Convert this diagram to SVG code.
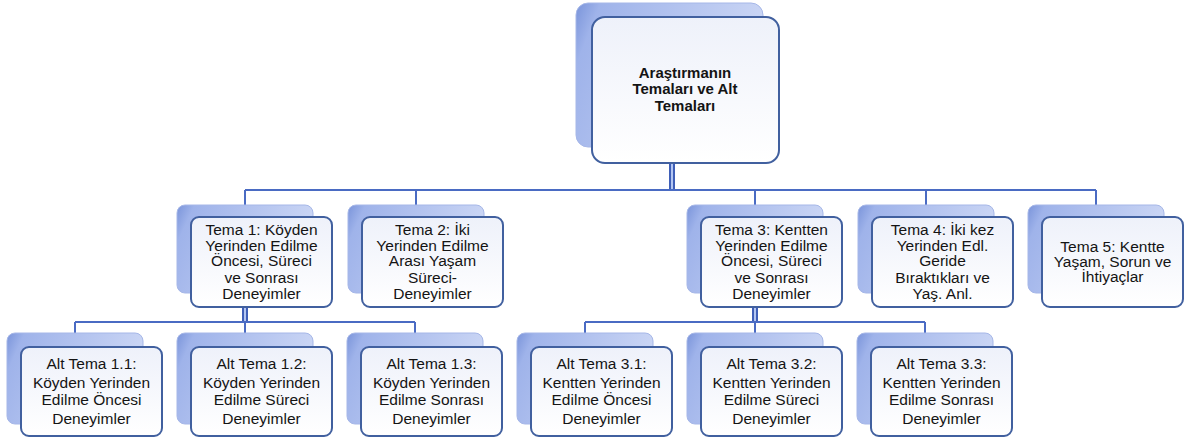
<svg xmlns="http://www.w3.org/2000/svg" width="1187" height="444" viewBox="0 0 1187 444">
<defs>
<linearGradient id="sh" x1="0" y1="0" x2="1" y2="0.3">
<stop offset="0" stop-color="#7a94da"/>
<stop offset="0.12" stop-color="#9fb3ea"/>
<stop offset="1" stop-color="#ccd7f5"/>
</linearGradient>
<linearGradient id="fr" x1="0" y1="0" x2="0" y2="1">
<stop offset="0" stop-color="#eef1fa"/>
<stop offset="1" stop-color="#ffffff"/>
</linearGradient>
<style>
.sh{fill:url(#sh);stroke:#a6b7e8;stroke-width:1}
.fr{fill:url(#fr);stroke:#41609f;stroke-width:2}
.t{font-family:"Liberation Sans",Arial,sans-serif;font-size:15.5px;fill:#141414;text-anchor:middle}
.b{font-weight:bold;font-size:15px}
.ln{fill:none;stroke:#4a6bc3;stroke-width:2}
.po{fill:none;stroke:#3f5fb8;stroke-width:6}
.pi{fill:none;stroke:#b4c6f2;stroke-width:2}
</style>
</defs>
<rect width="1187" height="444" fill="#ffffff"/>
<g id="connectors">
<path class="po" d="M672 147V190"/>
<path class="pi" d="M672 147V190"/>
<path class="ln" d="M245 190H1096M245 190V205M416 190V205M755 190V205M926 190V205M1096 190V205"/>
<path class="po" d="M245 300V322"/>
<path class="pi" d="M245 300V322"/>
<path class="ln" d="M75 322H415M75 322V333M245 322V333M415 322V333"/>
<path class="po" d="M755 300V322"/>
<path class="pi" d="M755 300V322"/>
<path class="ln" d="M585 322H925M585 322V333M755 322V333M925 322V333"/>
</g>
<g id="root">
<rect class="sh" x="576" y="3" width="187" height="144" rx="12"/>
<rect class="fr" x="592" y="17" width="187" height="146" rx="13"/>
<text class="t b" x="685" y="78">Araştırmanın</text>
<text class="t b" x="685" y="94">Temaları ve Alt</text>
<text class="t b" x="685" y="111">Temaları</text>
</g>
<g id="tema1">
<rect class="sh" x="177" y="205" width="136" height="88" rx="8"/>
<rect class="fr" x="191" y="217" width="141" height="90" rx="8"/>
<text class="t" x="261.5" y="235">Tema 1: Köyden</text>
<text class="t" x="261.5" y="251">Yerinden Edilme</text>
<text class="t" x="261.5" y="266">Öncesi, Süreci</text>
<text class="t" x="261.5" y="283">ve Sonrası</text>
<text class="t" x="261.5" y="299">Deneyimler</text>
</g>
<g id="tema2">
<rect class="sh" x="348" y="205" width="136" height="88" rx="8"/>
<rect class="fr" x="362" y="217" width="141" height="90" rx="8"/>
<text class="t" x="432.5" y="235">Tema 2: İki</text>
<text class="t" x="432.5" y="251">Yerinden Edilme</text>
<text class="t" x="432.5" y="266">Arası Yaşam</text>
<text class="t" x="432.5" y="283">Süreci-</text>
<text class="t" x="432.5" y="299">Deneyimler</text>
</g>
<g id="tema3">
<rect class="sh" x="687" y="205" width="136" height="88" rx="8"/>
<rect class="fr" x="701" y="217" width="141" height="90" rx="8"/>
<text class="t" x="771.5" y="235">Tema 3: Kentten</text>
<text class="t" x="771.5" y="251">Yerinden Edilme</text>
<text class="t" x="771.5" y="266">Öncesi, Süreci</text>
<text class="t" x="771.5" y="283">ve Sonrası</text>
<text class="t" x="771.5" y="299">Deneyimler</text>
</g>
<g id="tema4">
<rect class="sh" x="858" y="205" width="136" height="88" rx="8"/>
<rect class="fr" x="872" y="217" width="141" height="90" rx="8"/>
<text class="t" x="942.5" y="235">Tema 4: İki kez</text>
<text class="t" x="942.5" y="251">Yerinden Edl.</text>
<text class="t" x="942.5" y="266">Geride</text>
<text class="t" x="942.5" y="283">Bıraktıkları ve</text>
<text class="t" x="942.5" y="299">Yaş. Anl.</text>
</g>
<g id="tema5">
<rect class="sh" x="1028" y="205" width="136" height="88" rx="8"/>
<rect class="fr" x="1042" y="217" width="141" height="90" rx="8"/>
<text class="t" x="1112.5" y="252">Tema 5: Kentte</text>
<text class="t" x="1112.5" y="267">Yaşam, Sorun ve</text>
<text class="t" x="1112.5" y="282">İhtiyaçlar</text>
</g>
<g id="alt11">
<rect class="sh" x="7" y="333" width="136" height="91" rx="8"/>
<rect class="fr" x="21" y="347" width="141" height="89" rx="8"/>
<text class="t" x="91.5" y="369">Alt Tema 1.1:</text>
<text class="t" x="91.5" y="388">Köyden Yerinden</text>
<text class="t" x="91.5" y="405">Edilme Öncesi</text>
<text class="t" x="91.5" y="424">Deneyimler</text>
</g>
<g id="alt12">
<rect class="sh" x="177" y="333" width="136" height="91" rx="8"/>
<rect class="fr" x="191" y="347" width="141" height="89" rx="8"/>
<text class="t" x="261.5" y="369">Alt Tema 1.2:</text>
<text class="t" x="261.5" y="388">Köyden Yerinden</text>
<text class="t" x="261.5" y="405">Edilme Süreci</text>
<text class="t" x="261.5" y="424">Deneyimler</text>
</g>
<g id="alt13">
<rect class="sh" x="347" y="333" width="136" height="91" rx="8"/>
<rect class="fr" x="361" y="347" width="141" height="89" rx="8"/>
<text class="t" x="431.5" y="369">Alt Tema 1.3:</text>
<text class="t" x="431.5" y="388">Köyden Yerinden</text>
<text class="t" x="431.5" y="405">Edilme Sonrası</text>
<text class="t" x="431.5" y="424">Deneyimler</text>
</g>
<g id="alt31">
<rect class="sh" x="517" y="333" width="136" height="91" rx="8"/>
<rect class="fr" x="531" y="347" width="141" height="89" rx="8"/>
<text class="t" x="601.5" y="369">Alt Tema 3.1:</text>
<text class="t" x="601.5" y="388">Kentten Yerinden</text>
<text class="t" x="601.5" y="405">Edilme Öncesi</text>
<text class="t" x="601.5" y="424">Deneyimler</text>
</g>
<g id="alt32">
<rect class="sh" x="687" y="333" width="136" height="91" rx="8"/>
<rect class="fr" x="701" y="347" width="141" height="89" rx="8"/>
<text class="t" x="771.5" y="369">Alt Tema 3.2:</text>
<text class="t" x="771.5" y="388">Kentten Yerinden</text>
<text class="t" x="771.5" y="405">Edilme Süreci</text>
<text class="t" x="771.5" y="424">Deneyimler</text>
</g>
<g id="alt33">
<rect class="sh" x="857" y="333" width="136" height="91" rx="8"/>
<rect class="fr" x="871" y="347" width="141" height="89" rx="8"/>
<text class="t" x="941.5" y="369">Alt Tema 3.3:</text>
<text class="t" x="941.5" y="388">Kentten Yerinden</text>
<text class="t" x="941.5" y="405">Edilme Sonrası</text>
<text class="t" x="941.5" y="424">Deneyimler</text>
</g>
</svg>
